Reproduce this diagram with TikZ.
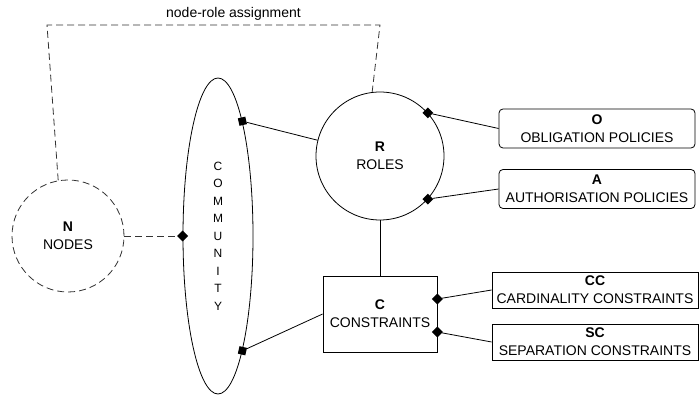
\documentclass[tikz,border=0pt]{standalone}
\usepackage{fontspec}
\setmainfont{Liberation Sans}
\usetikzlibrary{shapes.geometric,positioning}

\tikzset{
  ent/.style={draw, fill=white, line width=.8pt, align=center,
    font=\fontsize{14}{18}\selectfont},
  role/.style={ent, circle, minimum size=128pt, inner sep=0pt},
  pol/.style={ent, rounded corners=4pt, minimum width=196pt,
    minimum height=39pt, inner sep=0pt},
  con/.style={ent, minimum width=206pt, minimum height=36pt, inner sep=0pt},
  dia/.style={diamond, fill=black, inner sep=0pt, minimum size=11pt},
  link/.style={line width=.8pt},
  assign/.style={link, draw=black!80, dash pattern=on 7pt off 4pt},
}

\begin{document}
\begin{tikzpicture}[x=1pt, y=-1pt]
  \useasboundingbox (0,0) rectangle (699,395);

  % community and its members
  \node[ent, ellipse, minimum width=70pt, minimum height=316pt, inner sep=0pt,
    font=\fontsize{12}{17.5}\selectfont] (comm) at (218,236)
    {C\\O\\M\\M\\U\\N\\I\\T\\Y};
  \node[ent, circle, assign, minimum size=112pt, inner sep=0pt] (N) at (68,236)
    {\textbf{N}\\NODES};
  \node[role] (R) at (380,156) {\textbf{R}\\ROLES};
  \node[ent, minimum width=114pt, minimum height=76pt] (C) at (380,314)
    {\textbf{C}\\CONSTRAINTS};

  % policies
  \node[pol] (O) at (597,128.5) {\textbf{O}\\OBLIGATION POLICIES};
  \node[pol] (A) at (597,189) {\textbf{A}\\AUTHORISATION POLICIES};
  \node[con] (CC) at (595,290) {\textbf{CC}\\CARDINALITY CONSTRAINTS};
  \node[con] (SC) at (595,342) {\textbf{SC}\\SEPARATION CONSTRAINTS};

  % attachment points
  \node[dia] (cn) at (comm.180) {};
  \node[dia, rotate=-32] (cr) at (comm.78) {};
  \node[dia, rotate=32] (cc) at (comm.-78) {};
  \node[dia] (ro) at (R.42) {};
  \node[dia] (ra) at (R.-42) {};
  \node[dia] (co) at ([yshift=15pt]C.east) {};
  \node[dia] (cs) at ([yshift=-18pt]C.east) {};

  \coordinate (tl) at (47,25);
  \coordinate (tr) at (380,25);

  \draw[assign] (N) -- (cn);
  \draw[assign] (N.100) -- (tl) -- node[above, pos=.56, inner sep=4pt,
    font=\fontsize{14}{16}\selectfont, text=black] {node-role assignment}
    (tr) -- (R.97);

  \draw[link] (cr) -- (R);
  \draw[link] (cc) -- (C.west);
  \draw[link] (R) -- (C);
  \draw[link] (ro) -- (O.west);
  \draw[link] (ra) -- (A.west);
  \draw[link] (co) -- (CC.west);
  \draw[link] (cs) -- (SC.west);
\end{tikzpicture}
\end{document}
